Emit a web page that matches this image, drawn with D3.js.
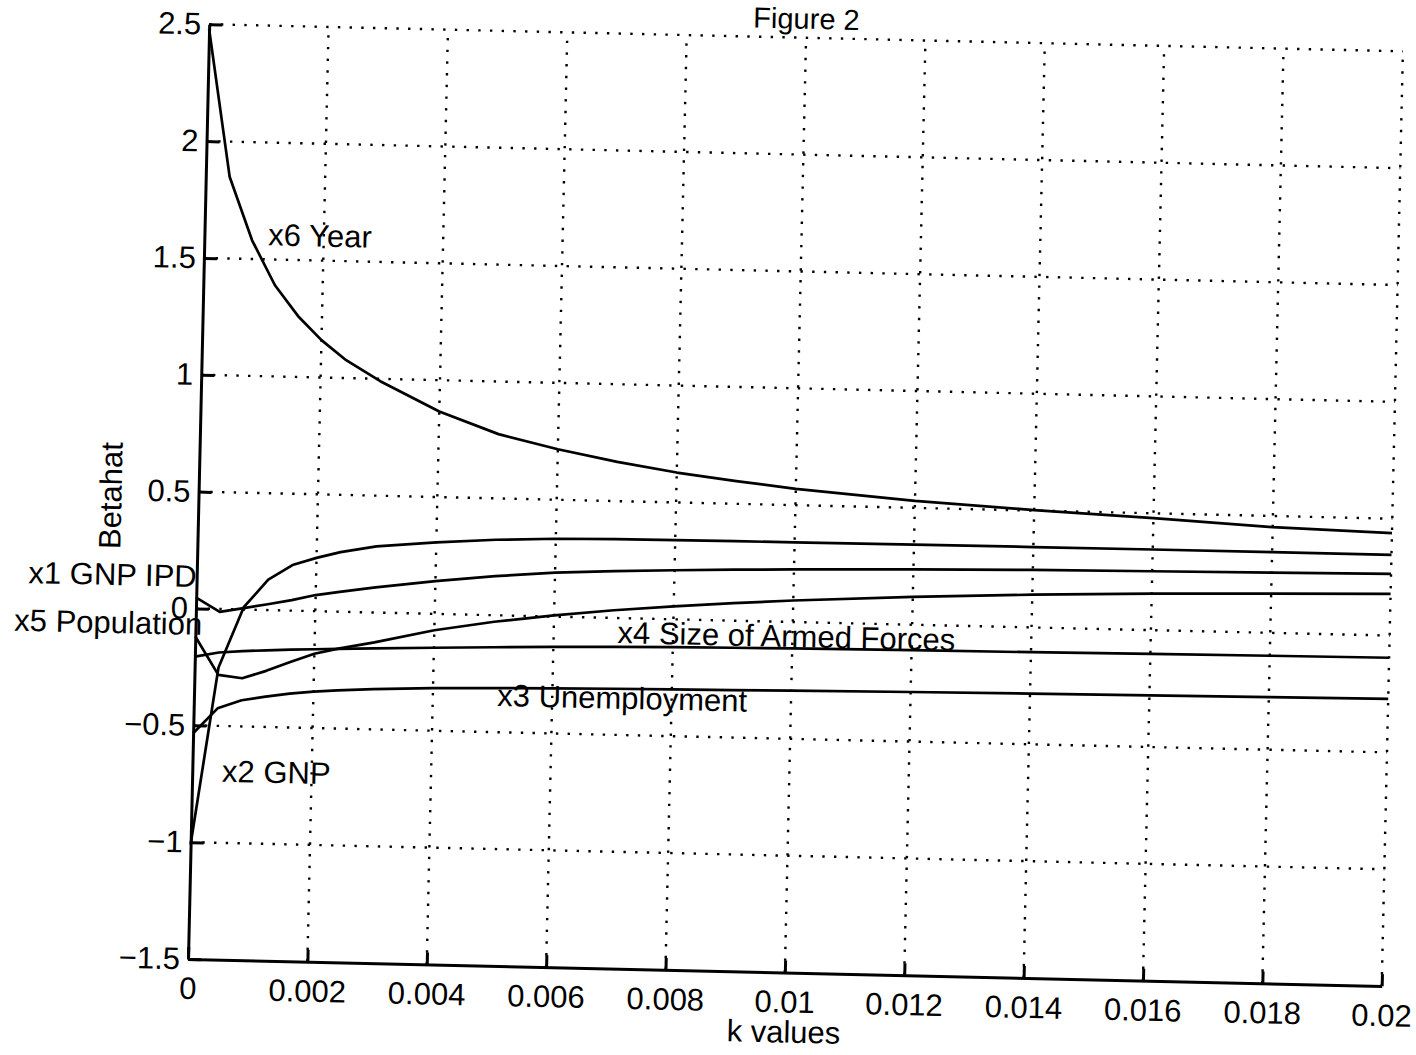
<!DOCTYPE html>
<html>
<head>
<meta charset="utf-8">
<script src="https://cdn.jsdelivr.net/npm/d3@7"></script>
<style>
  html, body { margin: 0; padding: 0; background: #fff; }
  svg { display: block; }
  text { font-family: "Liberation Sans", Arial, Helvetica, sans-serif; fill: #000; }
</style>
</head>
<body>
<svg id="chart" width="1416" height="1055"></svg>
<script>
// ---- data ----
const kValues = [0, 0.0004, 0.0008, 0.0012, 0.0016, 0.002, 0.0024, 0.003, 0.004, 0.005,
                 0.006, 0.007, 0.008, 0.009, 0.010, 0.012, 0.014, 0.016, 0.018, 0.020];
const x1GnpIpd = [0.046, -0.012, 0.006, 0.025, 0.045, 0.069, 0.085, 0.108, 0.14, 0.167,
                  0.188, 0.2, 0.21, 0.218, 0.225, 0.237, 0.246, 0.252, 0.258, 0.264];
const x2Gnp = [-1.01, -0.25, 0.01, 0.13, 0.195, 0.228, 0.255, 0.283, 0.306, 0.323,
               0.333, 0.337, 0.339, 0.34, 0.341, 0.343, 0.344, 0.345, 0.345, 0.345];
const x3Unemployment = [-0.534, -0.425, -0.388, -0.37, -0.355, -0.344, -0.337, -0.328, -0.318, -0.312,
                        -0.307, -0.303, -0.3, -0.297, -0.294, -0.288, -0.283, -0.279, -0.275, -0.271];
const x4ArmedForces = [-0.206, -0.186, -0.178, -0.172, -0.167, -0.163, -0.159, -0.153, -0.145, -0.137,
                       -0.13, -0.124, -0.119, -0.116, -0.113, -0.109, -0.106, -0.102, -0.098, -0.095];
const x5Population = [-0.12, -0.282, -0.294, -0.26, -0.22, -0.182, -0.158, -0.128, -0.07, -0.028,
                      0.005, 0.033, 0.055, 0.075, 0.092, 0.119, 0.14, 0.156, 0.168, 0.178];
const x6Year = [2.48, 1.85, 1.58, 1.39, 1.26, 1.16, 1.08, 0.99, 0.866, 0.775,
                0.716, 0.668, 0.628, 0.597, 0.570, 0.53, 0.502, 0.479, 0.452, 0.438];

const xTickValues = [0, 0.002, 0.004, 0.006, 0.008, 0.01, 0.012, 0.014, 0.016, 0.018, 0.02];
const xTickLabels = ["0", "0.002", "0.004", "0.006", "0.008", "0.01", "0.012", "0.014", "0.016", "0.018", "0.02"];
const yTickValues = [-1.5, -1, -0.5, 0, 0.5, 1, 1.5, 2, 2.5];
const yTickLabels = ["\u22121.5", "\u22121", "\u22120.5", "0", "0.5", "1", "1.5", "2", "2.5"];

const seriesNames = ["x1 GNP IPD", "x2 GNP", "x3 Unemployment", "x4 Size of Armed Forces", "x5 Population", "x6  Year"];
const seriesValues = [x1GnpIpd, x2Gnp, x3Unemployment, x4ArmedForces, x5Population, x6Year];

// line annotations: [text, k, value, anchor]
const annotations = [
  ["x6  Year", 0.00107, 1.56, "start"],
  ["x1 GNP IPD", 0.0, 0.092, "end"],
  ["x5 Population", 0.00011, -0.113, "end"],
  ["x4 Size of Armed Forces", 0.00707, -0.107, "start"],
  ["x3 Unemployment", 0.00508, -0.388, "start"],
  ["x2 GNP", 0.0005, -0.739, "start"]
];

// ---- layout ----
const W = 1194, H = 935;
const originX = 188, originY = 959, tilt = 1.3;
const FS = 31;

const svg = d3.select("#chart");
svg.append("rect").attr("width", 1416).attr("height", 1055).attr("fill", "#fff");

const g = svg.append("g")
  .attr("transform", `translate(${originX},${originY}) rotate(${tilt}) translate(0,${-H})`);

const x = d3.scaleLinear().domain([0, 0.02]).range([0, W]);
const y = d3.scaleLinear().domain([-1.5, 2.5]).range([H, 0]);

// grid (dotted)
const grid = g.append("g").attr("stroke", "#000").attr("stroke-width", 2.4)
  .attr("stroke-dasharray", "2.4,9.3").attr("fill", "none");
grid.selectAll("line.v").data(xTickValues.filter(d => d > 0)).join("line")
  .attr("x1", d => x(d)).attr("x2", d => x(d)).attr("y1", H).attr("y2", 0);
grid.selectAll("line.h").data(yTickValues.filter(d => d > -1.5)).join("line")
  .attr("x1", 0).attr("x2", W).attr("y1", d => y(d)).attr("y2", d => y(d));

// axes
const xAxis = d3.axisBottom(x).tickValues(xTickValues)
  .tickFormat((d, i) => xTickLabels[i]).tickSize(-12).tickSizeOuter(0).tickPadding(18);
const yAxis = d3.axisLeft(y).tickValues(yTickValues)
  .tickFormat((d, i) => yTickLabels[i]).tickSize(-13).tickSizeOuter(0).tickPadding(8);

const gx = g.append("g").attr("transform", `translate(0,${H})`).call(xAxis);
const gy = g.append("g").call(yAxis);
[gx, gy].forEach(a => {
  a.select(".domain").attr("stroke", "#000").attr("stroke-width", 3);
  a.selectAll(".tick line").attr("stroke", "#000").attr("stroke-width", 3);
  a.selectAll(".tick text").attr("font-size", FS)
    .attr("font-family", "'Liberation Sans', Arial, Helvetica, sans-serif").attr("fill", "#000");
});

// series lines
const line = d3.line().x((d, i) => x(kValues[i])).y(d => y(d));
g.append("g").selectAll("path").data(seriesValues).join("path")
  .attr("d", d => line(d))
  .attr("fill", "none").attr("stroke", "#000").attr("stroke-width", 2.7)
  .attr("stroke-linejoin", "round");

// annotations
g.append("g").selectAll("text").data(annotations).join("text")
  .attr("x", d => x(d[1])).attr("y", d => y(d[2]))
  .attr("text-anchor", d => d[3])
  .attr("font-size", FS)
  .text(d => d[0]);

// titles
g.append("text").attr("x", W / 2).attr("y", -9).attr("text-anchor", "middle")
  .attr("font-size", 29).text("Figure 2");
g.append("text").attr("x", W / 2).attr("y", H + 70).attr("text-anchor", "middle")
  .attr("font-size", FS).text("k values");
g.append("text").attr("transform", `translate(-77,${H / 2 + 6}) rotate(-90)`)
  .attr("text-anchor", "middle").attr("font-size", FS).text("Betahat");
</script>
</body>
</html>
